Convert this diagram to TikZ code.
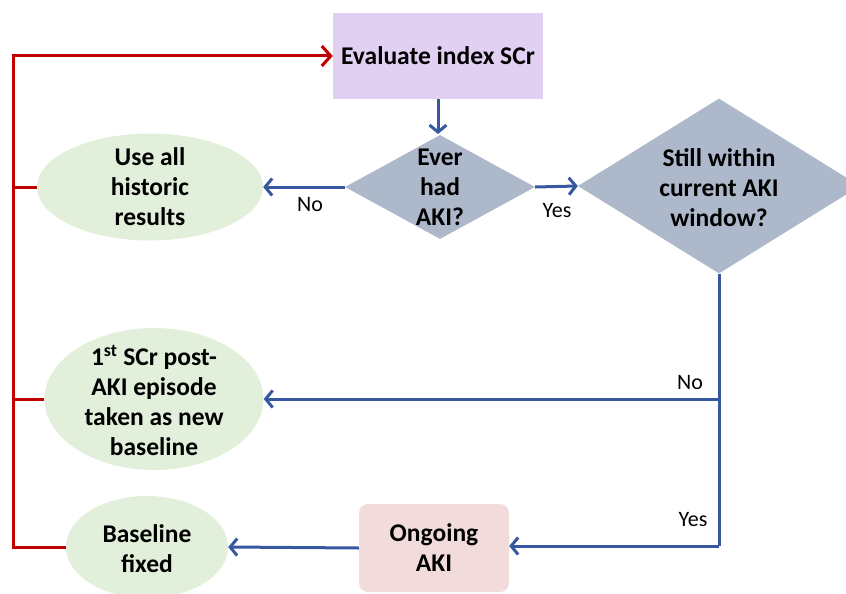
\documentclass[tikz,border=0pt]{standalone}
\usepackage{fontspec}
\setmainfont{Carlito}
\usetikzlibrary{shapes.geometric,arrows.meta}

\definecolor{evalfill}{HTML}{E1D0F1}
\definecolor{decfill}{HTML}{ADB9CB}
\definecolor{resfill}{HTML}{E2EFDA}
\definecolor{akifill}{HTML}{F2DCDB}
\definecolor{flowblue}{HTML}{3558A0}
\definecolor{loopred}{HTML}{C00000}

\tikzset{
  boxtext/.style={align=center, font=\fontsize{25.5}{30}\selectfont\bfseries, inner sep=0pt},
  decision/.style={diamond, fill=decfill, draw=none, inner sep=0pt},
  outcome/.style={ellipse, fill=resfill, draw=none, inner sep=0pt},
  answer/.style={font=\fontsize{22}{26}\selectfont, inner sep=0pt},
  flow/.style={draw=flowblue, line width=3pt, -{Straight Barb[length=7pt,width=17pt]}},
  flowline/.style={draw=flowblue, line width=3pt},
  loop/.style={draw=loopred, line width=3pt},
  looparrow/.style={loop, -{Straight Barb[length=9pt,width=20pt]}},
}

\begin{document}
\begin{tikzpicture}[x=1pt, y=-1pt]
\useasboundingbox (0,0) rectangle (846,594);

% start box
\node[fill=evalfill, minimum width=210pt, minimum height=86pt, inner sep=0pt] (ev) at (438,56) {};
\node[boxtext] (evt) at (ev) {Evaluate index SCr};

% first decision
\node[decision, minimum width=190pt, minimum height=104pt] (d1) at (440,187) {};
\node[boxtext] (d1t) at (d1) {Ever\\had\\AKI?};

% second decision
\node[decision, minimum width=282pt, minimum height=175pt] (d2) at (719,186) {};
\node[boxtext] (d2t) at (719,188) {Still within\\current AKI\\window?};

% outcomes
\node[outcome, minimum width=226pt, minimum height=107pt] (hist) at (150,187) {};
\node[boxtext] (histt) at (hist) {Use all\\historic\\results};

\node[outcome, minimum width=219pt, minimum height=142pt] (newb) at (154,399) {};
\node[boxtext] (newbt) at (154,400) {1\textsuperscript{st} SCr post-\\AKI episode\\taken as new\\baseline};

\node[outcome, minimum width=162pt, minimum height=102pt] (fixed) at (147,547) {};
\node[boxtext] (fixedt) at (147,549) {Baseline\\fixed};

\node[fill=akifill, rounded corners=9pt, minimum width=150pt, minimum height=88pt, inner sep=0pt] (ongo) at (434,548) {};
\node[boxtext] (ongot) at (ongo) {Ongoing\\AKI};

% main flow
\draw[flow] (ev.south) -- (438,134);
\draw[flow] (d1.west) -- (hist.east);
\draw[flow] (d1.east) -- (d2.west);
\coordinate (split) at (d2.south |- newb.east);
\coordinate (low) at (719,546);
\draw[flowline] (d2.south) -- (low);
\draw[flow] (low) -- (ongo.east |- low);
\draw[flow] (split) -- (newb.east);
\draw[flow] (ongo.west) -- (fixed.east);

% answer labels
\node[answer] (no1) at (310,205) {No};
\node[answer] (yes1) at (557,211) {Yes};
\node[answer] (no2) at (690,383) {No};
\node[answer] (yes2) at (693,520) {Yes};

% loop back to the start
\coordinate (rtop) at (13,56);
\coordinate (rbot) at (13,547);
\draw[looparrow] (fixed.west) -- (rbot) -- (rtop) -- (ev.west);
\draw[loop] (hist.west) -- (hist.west -| rtop);
\draw[loop] (newb.west) -- (newb.west -| rtop);
\end{tikzpicture}
\end{document}
